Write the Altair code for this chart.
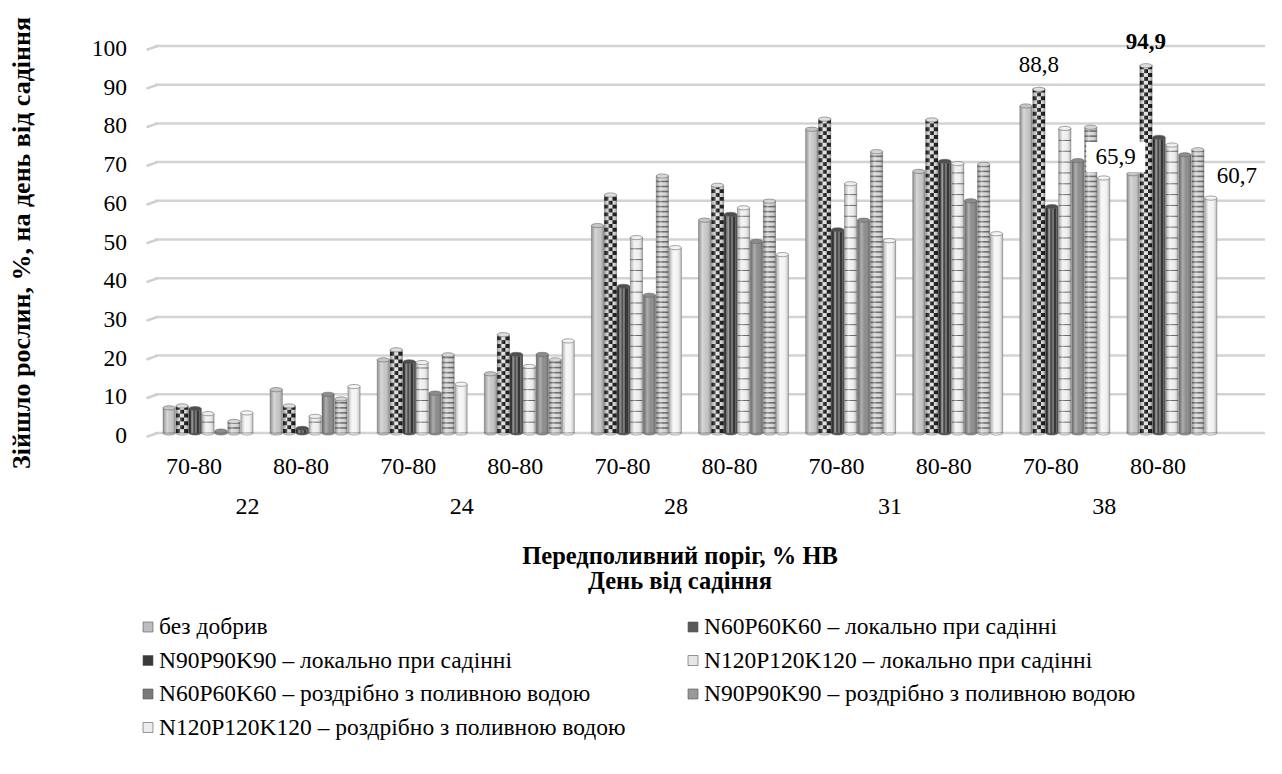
import altair as alt
import pandas as pd

# ---------------- data ----------------
days = ["22", "24", "28", "31", "38"]
thresholds = ["70-80", "80-80"]
groups = [f"{d}|{t}" for d in days for t in thresholds]

series = [
    "без добрив",
    "N60P60K60 – локально при садінні",
    "N90P90K90 – локально при садінні",
    "N120P120K120 – локально при садінні",
    "N60P60K60 – роздрібно з поливною водою",
    "N90P90K90 – роздрібно з поливною водою",
    "N120P120K120 – роздрібно з поливною водою",
]

bez_dobryv = [6.5, 11.2, 18.9, 15.3, 53.6, 55.0, 78.5, 67.6, 84.5, 67.0]
n60_lok = [7.0, 7.0, 21.5, 25.4, 61.5, 64.0, 81.1, 80.9, 88.8, 94.9]
n90_lok = [6.3, 1.2, 18.4, 20.3, 37.9, 56.5, 52.5, 70.2, 58.5, 76.4]
n120_lok = [5.0, 4.3, 18.2, 17.2, 50.5, 58.2, 64.4, 69.6, 78.7, 74.4]
n60_rozd = [0.5, 10.0, 10.3, 20.3, 35.6, 49.5, 55.0, 60.0, 70.4, 71.9]
n90_rozd = [3.0, 8.8, 20.2, 18.9, 66.4, 59.9, 72.7, 69.4, 79.0, 73.2]
n120_rozd = [5.2, 12.0, 12.6, 23.8, 47.9, 46.1, 49.7, 51.5, 65.9, 60.7]
all_values = [bez_dobryv, n60_lok, n90_lok, n120_lok, n60_rozd, n90_rozd, n120_rozd]

y_ticks = list(range(0, 101, 10))
x_title = ["Передполивний поріг, % НВ", "День від садіння"]
y_title = "Зійшло рослин, %, на день від садіння"

# bars that carry a value label: (group, series index)
labelled = [("38|70-80", 1), ("38|80-80", 1), ("38|70-80", 6), ("38|80-80", 6)]

rows = []
for s, vals in zip(series, all_values):
    for g, v in zip(groups, vals):
        rows.append({"grp": g, "series": s, "value": v})
df = pd.DataFrame(rows)

grp_df = pd.DataFrame({"grp": groups, "thr": [g.split("|")[1] for g in groups]})
day_df = pd.DataFrame({"grp": groups[0::2], "day": days})
tick_df = pd.DataFrame({"t": y_ticks})

# ---------------- styles ----------------
FONT = "Liberation Serif"
FS_TICK = 23.5
FS_CAT = 24
FS_LEG = 23.5
FS_XTITLE = 24.5
FS_YTITLE = 26
FS_VAL = 23
W, H = 1110, 387
fills = ["#c6c6c6", "#dedede", "#4e4e4e", "#efefef", "#8c8c8c", "#d6d6d6", "#f4f4f4"]
legend_fills = ["#bdbdbd", "#5a5a5a", "#3a3a3a", "#e6e6e6", "#7a7a7a", "#9a9a9a", "#ececec"]
cap_fills = ["#d8d8d8", "#9a9a9a", "#5e5e5e", "#f7f7f7", "#a0a0a0", "#c8c8c8", "#fafafa"]

xscale = alt.Scale(domain=groups, paddingInner=0.16, paddingOuter=0.262, align=0.143)
yscale = alt.Scale(domain=[0, 100], nice=False, zero=True)
offscale = alt.Scale(domain=series, paddingInner=0.06, paddingOuter=0)

xenc = alt.X("grp:N", scale=xscale, axis=None, title=None)
xoff = alt.XOffset("series:N", scale=offscale)
yenc = alt.Y("value:Q", scale=yscale, axis=None, title=None)

CAP_SIZE = 150
ELLIPSE = "M-1,0 A1,0.34 0 1,0 1,0 A1,0.34 0 1,0 -1,0 Z"
HALF_ELLIPSE = "M-1,0 A1,0.34 0 0,0 1,0 Z"

base = alt.Chart(df)

# ---- guides drawn by hand (gridlines, tick labels, titles, legend) ----
grid = alt.Chart(tick_df).mark_rule(color="#d3d3d3", strokeWidth=2.5).encode(
    y=alt.Y("t:Q", scale=yscale, axis=None), x=alt.value(0), x2=alt.value(W)
)
stubs = alt.Chart(tick_df).mark_point(
    shape="M-1,0.6 L0.7,0", filled=False, size=169, color="#cfcfcf", strokeWidth=2.5, opacity=1
).encode(x=alt.value(-2), y=alt.Y("t:Q", scale=yscale, axis=None))
ytick_labels = alt.Chart(tick_df).mark_text(
    font=FONT, fontSize=FS_TICK, color="black", align="right", baseline="middle", dy=3
).encode(x=alt.value(-28), y=alt.Y("t:Q", scale=yscale, axis=None), text="t:Q")

xcat_labels = alt.Chart(grp_df).mark_text(
    font=FONT, fontSize=FS_CAT, color="black", baseline="middle", dx=-14
).encode(x=xenc, y=alt.value(421), text="thr:N")
day_text = alt.Chart(day_df).mark_text(
    dx=39.5, font=FONT, fontSize=FS_CAT, baseline="middle", color="black"
).encode(x=xenc, y=alt.value(461), text="day:N")

title_layers = []
for k, line in enumerate(x_title):
    title_layers.append(
        alt.Chart(pd.DataFrame({"t": [line]})).mark_text(
            font=FONT, fontSize=FS_XTITLE, fontWeight="bold", color="black", align="center", baseline="middle"
        ).encode(x=alt.value(525), y=alt.value(510.5 + 25 * k), text="t:N")
    )
title_layers.append(
    alt.Chart(pd.DataFrame({"t": [y_title]})).mark_text(
        font=FONT, fontSize=FS_YTITLE, fontWeight="bold", color="black", align="center",
        baseline="middle", angle=270
    ).encode(x=alt.value(-133), y=alt.value(197), text="t:N")
)

legend_layers = []
for i, s in enumerate(series):
    r, c = divmod(i, 2)
    lx = -7 + 545 * c
    ly = 581 + 33.5 * r
    one = alt.Chart(pd.DataFrame({"s": [s]}))
    legend_layers.append(
        one.mark_point(shape="square", filled=True, size=100, color=legend_fills[i],
                       stroke="#555", strokeWidth=0.6, opacity=1)
        .encode(x=alt.value(lx), y=alt.value(ly))
    )
    legend_layers.append(
        one.mark_text(font=FONT, fontSize=FS_LEG, color="black", align="left", baseline="middle")
        .encode(x=alt.value(lx + 11), y=alt.value(ly), text="s:N")
    )

# ---- bars ----
bars = base.mark_bar(stroke="#7a7a7a", strokeWidth=0.5).encode(
    x=xenc, xOffset=xoff, y=yenc,
    color=alt.Color("series:N", scale=alt.Scale(domain=series, range=fills), legend=None),
)

bottom_caps = base.transform_calculate(zero="0").mark_point(
    shape=HALF_ELLIPSE, filled=True, size=CAP_SIZE, opacity=1, stroke="#777", strokeWidth=0.6
).encode(
    x=xenc, xOffset=xoff, y=alt.Y("zero:Q", scale=yscale, axis=None),
    fill=alt.Fill("series:N", scale=alt.Scale(domain=series, range=fills), legend=None),
)

# vertical stripes for N90P90K90 locally
stops = []
n_str = 6
for i in range(n_str):
    c = "#2c2c2c" if i % 2 == 0 else "#6e6e6e"
    stops += [alt.GradientStop(color=c, offset=i / n_str), alt.GradientStop(color=c, offset=(i + 1) / n_str)]
stripes = base.transform_filter(alt.datum.series == series[2]).mark_bar(
    color=alt.Gradient(gradient="linear", stops=stops, x1=0, x2=1, y1=0, y2=0),
    stroke="#444", strokeWidth=0.5,
).encode(x=xenc, xOffset=xoff, y=yenc)

def hlines(idx, step, thick, col):
    return base.transform_filter(alt.datum.series == series[idx]).transform_calculate(
        rows=f"sequence({step}, datum.value, {step})"
    ).transform_flatten(["rows"]).mark_tick(
        thickness=thick, size=12, color=col, opacity=1
    ).encode(x=xenc, xOffset=xoff, y=alt.Y("rows:Q", scale=yscale, axis=None))

lines4 = hlines(3, 2.8, 1, "#666")
lines6 = hlines(5, 1.3, 1.6, "#6a6a6a")

chk = base.transform_filter(alt.datum.series == series[1]).transform_calculate(
    rows="sequence(0.5, datum.value, 1)"
).transform_flatten(["rows"]).transform_calculate(par="floor(datum.rows) % 2")
CELL_A = "M-1,-0.32 L-0.33,-0.32 L-0.33,0.32 L-1,0.32 Z M0.33,-0.32 L1,-0.32 L1,0.32 L0.33,0.32 Z"
CELL_B = "M-0.33,-0.32 L0.33,-0.32 L0.33,0.32 L-0.33,0.32 Z"
chk_a = chk.transform_filter("datum.par == 0").mark_point(
    shape=CELL_A, filled=True, size=CAP_SIZE, color="#161616", opacity=1, strokeWidth=0
).encode(x=xenc, xOffset=xoff, y=alt.Y("rows:Q", scale=yscale, axis=None))
chk_b = chk.transform_filter("datum.par == 1").mark_point(
    shape=CELL_B, filled=True, size=CAP_SIZE, color="#161616", opacity=1, strokeWidth=0
).encode(x=xenc, xOffset=xoff, y=alt.Y("rows:Q", scale=yscale, axis=None))

shade = base.mark_bar(
    color=alt.Gradient(
        gradient="linear", x1=0, x2=1, y1=0, y2=0,
        stops=[
            alt.GradientStop(color="rgba(0,0,0,0.25)", offset=0),
            alt.GradientStop(color="rgba(255,255,255,0.30)", offset=0.32),
            alt.GradientStop(color="rgba(255,255,255,0.0)", offset=0.6),
            alt.GradientStop(color="rgba(0,0,0,0.28)", offset=1),
        ],
    ),
    strokeWidth=0,
).encode(x=xenc, xOffset=xoff, y=yenc)

top_caps = base.mark_point(
    shape=ELLIPSE, filled=True, size=CAP_SIZE, opacity=1, stroke="#666", strokeWidth=0.6
).encode(
    x=xenc, xOffset=xoff, y=yenc,
    fill=alt.Fill("series:N", scale=alt.Scale(domain=series, range=cap_fills), legend=None),
)

def sel(g, i):
    return base.transform_filter((alt.datum.grp == g) & (alt.datum.series == series[i])).transform_calculate(
        lab="replace(format(datum.value, '.1f'), '.', ',')"
    )

label_style = [
    dict(dx=0, dy=-24, align="center", fontWeight="normal"),
    dict(dx=0, dy=-24, align="center", fontWeight="bold"),
    dict(dx=12, dy=-21, align="center", fontWeight="normal"),
    dict(dx=6, dy=-22, align="left", fontWeight="normal"),
]

box = sel(*labelled[2]).mark_point(
    shape="M-0.583,-1.2 L1.383,-1.2 L1.383,-0.2 L-0.583,-0.2 Z",
    filled=True, size=3600, color="white", opacity=1, strokeWidth=0,
).encode(x=xenc, xOffset=xoff, y=yenc)

labels = []
for (g, i), st in zip(labelled, label_style):
    labels.append(
        sel(g, i).mark_text(font=FONT, fontSize=FS_VAL, color="black", baseline="middle", **st)
        .encode(x=xenc, xOffset=xoff, y=yenc, text="lab:N")
    )

chart = alt.layer(
    grid, stubs, bars, bottom_caps, stripes, lines4, lines6, chk_a, chk_b, shade, top_caps,
    ytick_labels, xcat_labels, day_text, *title_layers, *legend_layers, box, *labels
).properties(
    width=W, height=H,
    padding={"left": 147, "top": 38, "right": 9, "bottom": 333},
    autosize=alt.AutoSizeParams(type="none"),
    background="white",
).configure_view(stroke=None)

chart.save("out.html", embed_options={"renderer": "svg", "actions": False})
